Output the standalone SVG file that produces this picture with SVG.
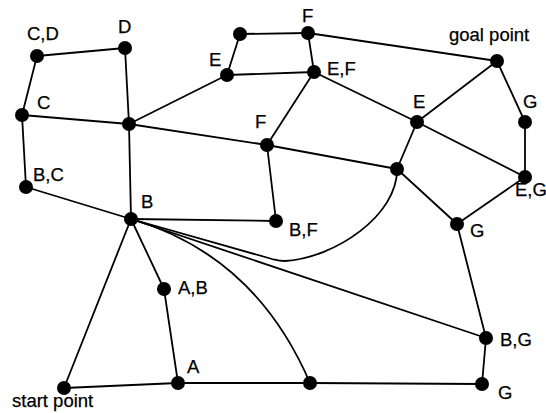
<svg xmlns="http://www.w3.org/2000/svg" width="546" height="413" viewBox="0 0 546 413">
<style>
.e{fill:none;stroke:#000;stroke-width:1.8;stroke-linecap:round;stroke-linejoin:round}
.n{fill:#000}
text{font-family:"Liberation Sans",Arial,sans-serif;font-size:18.5px;fill:#000;stroke:#000;stroke-width:0.25}
</style>
<rect width="546" height="413" fill="#fff"/>
<g id="connectors" class="e">
<path d="M37,56 L125,48"/>
<path d="M37,56 L22,115"/>
<path d="M125,48 L129,124"/>
<path d="M22,115 L129,124"/>
<path d="M22,115 L26,187"/>
<path d="M26,187 L131,219"/>
<path d="M129,124 L131,219"/>
<path d="M129,124 L227,75"/>
<path d="M129,124 L267,145"/>
<path d="M227,75 L240,34"/>
<path d="M240,34 L308,33"/>
<path d="M227,75 L314,72"/>
<path d="M308,33 L314,72"/>
<path d="M308,33 L497,61"/>
<path d="M314,72 L267,145"/>
<path d="M314,72 L417,122"/>
<path d="M267,145 L397,169"/>
<path d="M267,145 L276,221"/>
<path d="M131,219 L276,221"/>
<path d="M417,122 L497,61"/>
<path d="M417,122 L397,169"/>
<path d="M417,122 L525,177"/>
<path d="M497,61 L525,122"/>
<path d="M525,122 L525,177"/>
<path d="M525,177 L457,224"/>
<path d="M397,169 L457,224"/>
<path d="M457,224 L486,338"/>
<path d="M486,338 L482,384"/>
<path d="M482,384 L310,383"/>
<path d="M310,383 L178,383"/>
<path d="M178,383 L64,388"/>
<path d="M64,388 L131,219"/>
<path d="M131,219 L164,289"/>
<path d="M164,289 L178,383"/>
<path d="M131,219 L486,338"/>
<path d="M131,219 L272,259 C276,260 279,261 285,261 C335,258 398,215 397,169"/>
<path d="M131,219 Q255,255 310,383"/>
</g>
<g id="n-cd"><circle class="n" cx="37" cy="56" r="7"/><text x="27" y="40">C,D</text></g>
<g id="n-d"><circle class="n" cx="125" cy="48" r="7"/><text x="118" y="33">D</text></g>
<g id="n-c"><circle class="n" cx="22" cy="115" r="7"/><text x="37" y="109">C</text></g>
<g id="n-bc"><circle class="n" cx="26" cy="187" r="7"/><text x="33" y="181">B,C</text></g>
<g id="n-mid"><circle class="n" cx="129" cy="124" r="7"/></g>
<g id="n-b"><circle class="n" cx="131" cy="219" r="7"/><text x="141" y="208">B</text></g>
<g id="n-e1"><circle class="n" cx="227" cy="75" r="7"/><text x="209" y="66">E</text></g>
<g id="n-tl"><circle class="n" cx="240" cy="34" r="7"/></g>
<g id="n-f1"><circle class="n" cx="308" cy="33" r="7"/><text x="302" y="22">F</text></g>
<g id="n-ef"><circle class="n" cx="314" cy="72" r="7"/><text x="327" y="75">E,F</text></g>
<g id="n-f2"><circle class="n" cx="267" cy="145" r="7"/><text x="255" y="128">F</text></g>
<g id="n-goal"><circle class="n" cx="497" cy="61" r="7"/><text x="449" y="41">goal point</text></g>
<g id="n-e2"><circle class="n" cx="417" cy="122" r="7"/><text x="413" y="108">E</text></g>
<g id="n-g1"><circle class="n" cx="525" cy="122" r="7"/><text x="523" y="108">G</text></g>
<g id="n-x"><circle class="n" cx="397" cy="169" r="7"/></g>
<g id="n-eg"><circle class="n" cx="525" cy="177" r="7"/><text x="515" y="196">E,G</text></g>
<g id="n-bf"><circle class="n" cx="276" cy="221" r="7"/><text x="289" y="236">B,F</text></g>
<g id="n-g2"><circle class="n" cx="457" cy="224" r="7"/><text x="470" y="237">G</text></g>
<g id="n-ab"><circle class="n" cx="164" cy="289" r="7"/><text x="178" y="294">A,B</text></g>
<g id="n-bg"><circle class="n" cx="486" cy="338" r="7"/><text x="500" y="346">B,G</text></g>
<g id="n-a"><circle class="n" cx="178" cy="383" r="7"/><text x="187" y="373">A</text></g>
<g id="n-bm"><circle class="n" cx="310" cy="383" r="7"/></g>
<g id="n-g3"><circle class="n" cx="482" cy="384" r="7"/><text x="498" y="399">G</text></g>
<g id="n-start"><circle class="n" cx="64" cy="388" r="7"/><text x="12" y="407">start point</text></g>
</svg>
